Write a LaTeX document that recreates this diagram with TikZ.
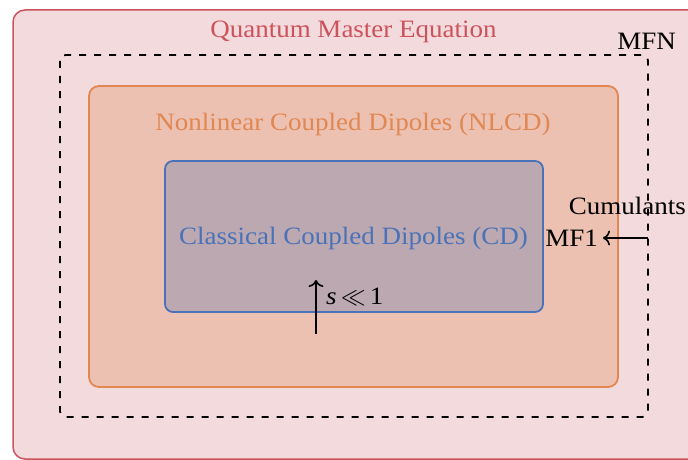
\documentclass[tikz,border=0pt]{standalone}
\usepackage{fontspec}
\setmainfont[FakeStretch=1.08]{Liberation Serif}
\usetikzlibrary{arrows.meta}
\definecolor{qred}{RGB}{204,82,92}
\definecolor{qpink}{RGB}{243,218,220}
\definecolor{qorange}{RGB}{225,135,82}
\definecolor{qorfill}{RGB}{236,193,177}
\definecolor{qblue}{RGB}{74,114,184}
\definecolor{qbfill}{RGB}{188,168,176}
\tikzset{
  box/.style={rounded corners=#1},
  lbl/.style={anchor=base, inner sep=0pt, font=\fontsize{25}{30}\selectfont},
  conn/.style={line width=1.6pt, -{To[length=7pt,width=15pt]}},
}
\begin{document}
\begin{tikzpicture}[x=1pt,y=-1pt]
\useasboundingbox (0,0) rectangle (688,460);
\clip (0,0) rectangle (688,460);
% outer
\draw[box=12pt, draw=qred, fill=qpink, line width=1.5pt] (13,10) rectangle (700,459);
\node[lbl, text=qred] (qme) at (353.5,38) {Quantum Master Equation};
% dashed MFN
\draw[box=6pt, draw=black, line width=1.8pt, dash pattern=on 7pt off 8pt] (60,55) rectangle (648,417);
\node[lbl, anchor=base east] (mfn) at (676,50) {MFN};
% orange
\draw[box=10pt, draw=qorange, fill=qorfill, line width=1.8pt] (89,86) rectangle (618,387);
\node[lbl, text=qorange] (nlcd) at (353,130) {Nonlinear Coupled Dipoles (NLCD)};
% blue
\draw[box=8pt, draw=qblue, fill=qbfill, line width=1.8pt] (165,161) rectangle (543,312);
\node[lbl, text=qblue] (cd) at (353.5,244) {Classical Coupled Dipoles (CD)};
% arrows and labels
\coordinate (sbot) at (316,334);
\coordinate (stop) at (316,280);
\draw[conn] (sbot) -- (stop);
\node[lbl, anchor=base west] (sll) at (326,304) {{\itshape s}$\,\ll\,$1};
\node[lbl, anchor=base east] (cum) at (686,214) {Cumulants};
\node[lbl, anchor=base east] (mf1) at (598,246) {MF1};
\coordinate (mfr) at (648,238);
\coordinate (mftip) at (603,238);
\draw[conn] (mfr) -- (mftip);
\end{tikzpicture}
\end{document}
